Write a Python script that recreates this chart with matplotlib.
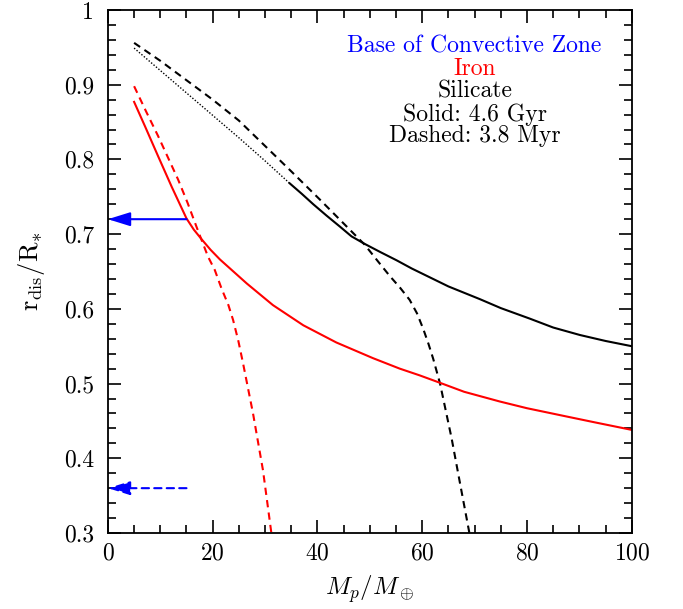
import numpy as np
import matplotlib
matplotlib.use('Agg')
import matplotlib.pyplot as plt

# %% Data
# Silicate, 4.6 Gyr: dotted part (extrapolation) and solid part
sil_old_dot_x = [5, 10, 15, 20, 25, 30, 34.7]
sil_old_dot_y = [0.949, 0.919, 0.889, 0.859, 0.829, 0.798, 0.768]
sil_old_x = [34.7, 37, 39.2, 41.7, 44.3, 46.5, 49, 52, 55.1, 58, 61.5, 65, 71.0, 75, 80.5, 85, 90.1, 95, 100]
sil_old_y = [0.768, 0.754, 0.740, 0.725, 0.710, 0.697, 0.687, 0.676, 0.665, 0.654, 0.642, 0.630,
             0.613, 0.601, 0.587, 0.575, 0.565, 0.557, 0.550]

# Silicate, 3.8 Myr
sil_young_x = [5, 10, 15, 20, 25, 30, 32.8, 35, 40.5, 45.6, 49, 51.5, 53.8, 55.8, 57.6, 59, 60.2, 61.2,
               62.1, 63.4, 65.6, 67.2, 69]
sil_young_y = [0.956, 0.932, 0.906, 0.880, 0.852, 0.818, 0.799, 0.784, 0.746, 0.710, 0.686, 0.664,
               0.644, 0.628, 0.612, 0.594, 0.573, 0.553, 0.533, 0.500, 0.427, 0.367, 0.300]

# Iron, 4.6 Gyr
iron_old_x = [5, 7.1, 9.6, 12.2, 15.0, 16.4, 17.9, 19.6, 21.4, 26.5, 31.5, 37.3, 43.6, 50.6, 55.7,
              59.5, 63.4, 68, 74.8, 80, 87.5, 93, 100]
iron_old_y = [0.877, 0.844, 0.804, 0.763, 0.721, 0.706, 0.693, 0.679, 0.666, 0.634, 0.605, 0.578,
              0.555, 0.534, 0.520, 0.511, 0.501, 0.489, 0.476, 0.467, 0.456, 0.448, 0.438]

# Iron, 3.8 Myr
iron_young_x = [5, 7.3, 9.6, 11.5, 13.4, 15.2, 16.9, 19.1, 20.4, 21.7, 23.0, 23.9, 24.9, 25.8, 27.7,
                29.6, 31.2]
iron_young_y = [0.898, 0.864, 0.831, 0.802, 0.773, 0.742, 0.710, 0.670, 0.652, 0.627, 0.605, 0.585,
                0.557, 0.527, 0.460, 0.384, 0.300]

# base of the convective zone (solid: 4.6 Gyr, dashed: 3.8 Myr)
bcz_old = 0.72
bcz_young = 0.36
arrow_start = 15

legend_lines = ['Base of Convective Zone', 'Iron', 'Silicate', 'Solid: 4.6 Gyr', 'Dashed: 3.8 Myr']
legend_colors = ['blue', 'red', 'black', 'black', 'black']

# %% Style
plt.rcParams['font.family'] = 'serif'
plt.rcParams['font.serif'] = ['cmr10']
plt.rcParams['mathtext.fontset'] = 'cm'
plt.rcParams['axes.unicode_minus'] = False
plt.rcParams['axes.formatter.use_mathtext'] = True

fig = plt.figure(figsize=(6.83, 6.09), dpi=100)
ax = fig.add_axes([0.158, 0.1248, 0.767, 0.8588])

lw = 1.5
dash = (0, (3.5, 2.5))
ax.plot(sil_old_dot_x, sil_old_dot_y, color='black', lw=1.0, ls=(0, (1, 1.3)))
ax.plot(sil_old_x, sil_old_y, color='black', lw=lw)
ax.plot(sil_young_x, sil_young_y, color='black', lw=lw, ls=dash)
ax.plot(iron_old_x, iron_old_y, color='red', lw=lw)
ax.plot(iron_young_x, iron_young_y, color='red', lw=lw, ls=dash)

# arrows marking the base of the convective zone
for yv, style in [(bcz_old, '-'), (bcz_young, dash)]:
    ax.annotate('', xy=(0, yv), xytext=(arrow_start, yv),
                arrowprops=dict(arrowstyle='-|>,head_length=1.35,head_width=0.42',
                                mutation_scale=10, color='blue', lw=lw, ls=style,
                                shrinkA=0, shrinkB=0))

# legend as coloured text lines
text_y = [0.943, 0.913, 0.883, 0.852, 0.823]
for txt, col, yy in zip(legend_lines, legend_colors, text_y):
    ax.text(70, yy, txt, color=col, ha='center', va='baseline', fontsize=17)

ax.set_xlim(0, 100)
ax.set_ylim(0.3, 1.0)
ax.set_xticks(np.arange(0, 101, 20))
ax.set_xticks(np.arange(0, 101, 5), minor=True)
ax.set_yticks(np.arange(0.3, 1.001, 0.1))
ax.set_yticklabels(['0.3', '0.4', '0.5', '0.6', '0.7', '0.8', '0.9', '1'])
ax.set_yticks(np.arange(0.3, 1.001, 0.02), minor=True)
ax.tick_params(which='both', direction='in', top=True, right=True, labelsize=17, width=1.2)
ax.tick_params(which='major', length=9.5)
ax.tick_params(which='minor', length=5.5)
ax.tick_params(axis='y', pad=10)
ax.tick_params(axis='x', pad=7)
for sp in ax.spines.values():
    sp.set_linewidth(1.3)

ax.set_xlabel(r'$M_p/M_\oplus$', fontsize=18, labelpad=6)
ax.set_ylabel(r'$\mathrm{r}_{\mathrm{dis}}/\mathrm{R}_{*}$', fontsize=19, labelpad=12)

fig.savefig('out.png', dpi=100)
